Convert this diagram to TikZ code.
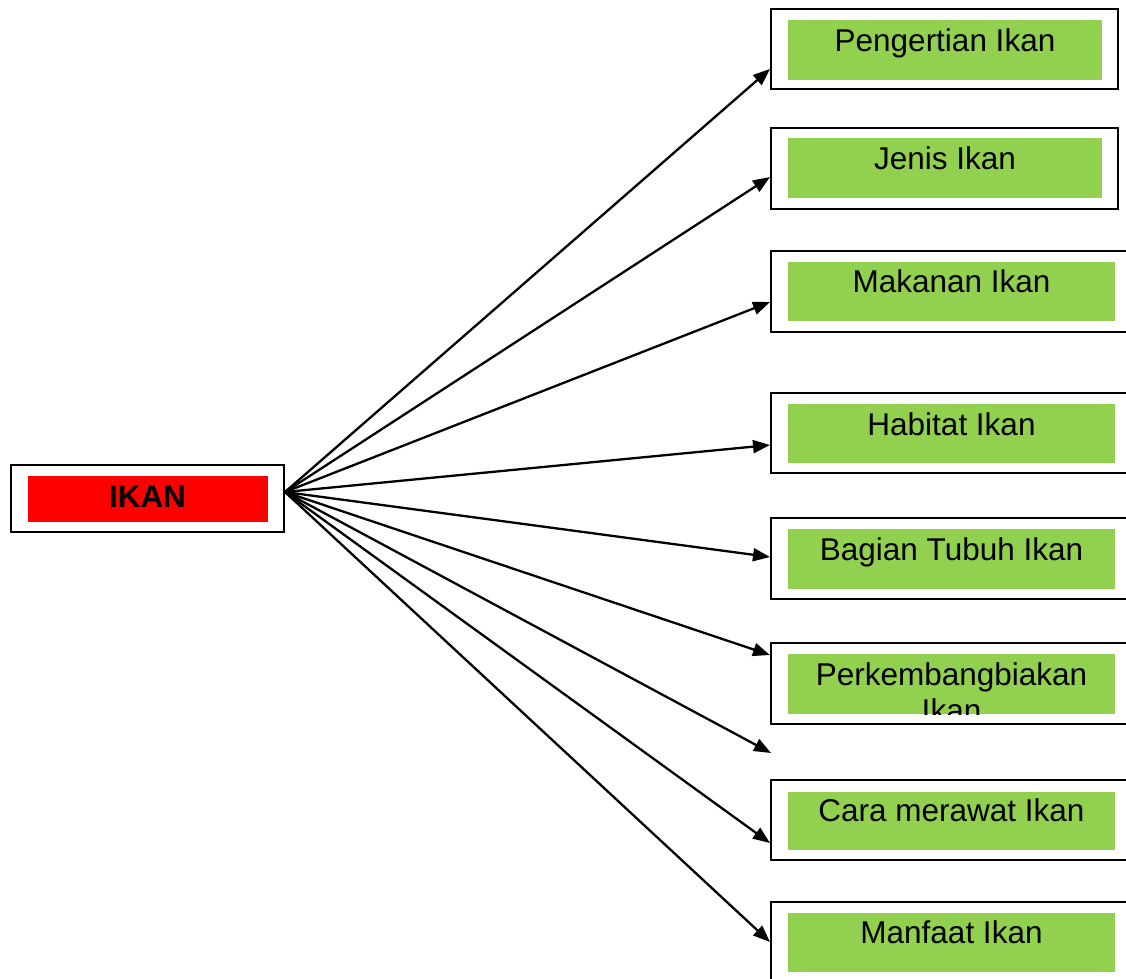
\documentclass[tikz,border=0pt]{standalone}
\usepackage{fontspec}
\setmainfont{Liberation Sans}
\usetikzlibrary{arrows.meta,calc}
\definecolor{boxgreen}{HTML}{92D050}
\definecolor{boxred}{HTML}{FF0000}
\begin{document}
\begin{tikzpicture}[x=1pt,y=-1pt,
  outerbox/.style={draw=black,line width=2pt,fill=white,rectangle,inner sep=0pt},
  greenbox/.style={fill=boxgreen,rectangle,inner sep=0pt},
  redbox/.style={fill=boxred,rectangle,inner sep=0pt},
  lbl/.style={anchor=base,inner sep=0pt,font=\fontsize{31.5}{36.5}\selectfont},
  conn/.style={line width=2.3pt,-{Triangle[length=17pt,width=13pt]},shorten >=0pt}]
\useasboundingbox (0,0) rectangle (1126,978);
\clip (0,0) rectangle (1126,978);
\fill[white] (0,0) rectangle (1126,978);

% central node
\node[outerbox,minimum width=273pt,minimum height=67pt] (ikan) at (147.5,498.5) {};
\node[redbox,minimum width=240pt,minimum height=46pt] (ikanfill) at (148,499) {};
\node[lbl,font=\fontsize{31.5}{36.5}\selectfont\bfseries] (ikantxt) at (147.5,507) {IKAN};

% right boxes
\node[outerbox,minimum width=347pt,minimum height=80pt] (b1) at (944.5,49) {};
\node[greenbox,minimum width=314pt,minimum height=60pt] (g1) at (945,50) {};
\node[lbl] (l1) at (945,51) {Pengertian Ikan};

\node[outerbox,minimum width=347pt,minimum height=81pt] (b2) at (944.5,168.5) {};
\node[greenbox,minimum width=314pt,minimum height=60pt] (g2) at (945,168) {};
\node[lbl] (l2) at (945,169) {Jenis Ikan};

\node[outerbox,minimum width=370pt,minimum height=81pt] (b3) at (956,291.5) {};
\node[greenbox,minimum width=327pt,minimum height=59pt] (g3) at (951.5,291.5) {};
\node[lbl] (l3) at (951.5,292) {Makanan Ikan};

\node[outerbox,minimum width=370pt,minimum height=80pt] (b4) at (956,433) {};
\node[greenbox,minimum width=327pt,minimum height=59pt] (g4) at (951.5,433.5) {};
\node[lbl] (l4) at (951.5,435) {Habitat Ikan};

\node[outerbox,minimum width=370pt,minimum height=81pt] (b5) at (956,558.5) {};
\node[greenbox,minimum width=327pt,minimum height=60pt] (g5) at (951.5,559) {};
\node[lbl] (l5) at (951.5,560) {Bagian Tubuh Ikan};

\node[outerbox,minimum width=370pt,minimum height=81pt] (b6) at (956,683.5) {};
\node[greenbox,minimum width=327pt,minimum height=60pt] (g6) at (951.5,684) {};
\begin{scope}
  \clip (g6.north west) rectangle (g6.south east);
  \node[lbl] (l6a) at (951.5,685) {Perkembangbiakan};
  \node[lbl] (l6b) at (951.5,721.5) {Ikan};
\end{scope}

\node[outerbox,minimum width=370pt,minimum height=80pt] (b8) at (956,820) {};
\node[greenbox,minimum width=327pt,minimum height=58pt] (g8) at (951.5,821) {};
\node[lbl] (l8) at (951.5,821) {Cara merawat Ikan};

\node[outerbox,minimum width=370pt,minimum height=88pt] (b9) at (956,946) {};
\node[greenbox,minimum width=327pt,minimum height=59pt] (g9) at (951.5,942.5) {};
\node[lbl] (l9) at (951.5,943) {Manfaat Ikan};

% connector ends
\coordinate (src) at (285,492);
\coordinate (t1) at (b1.west |- 0,69);
\coordinate (t2) at (b2.west |- 0,177);
\coordinate (t3) at (b3.west |- 0,302);
\coordinate (t4) at (b4.west |- 0,445);
\coordinate (t5) at (b5.west |- 0,557);
\coordinate (t6) at (b6.west |- 0,655);
\coordinate (t7) at (771,753);
\coordinate (t8) at (b8.west |- 0,843);
\coordinate (t9) at (b9.west |- 0,942);

\foreach \t in {t1,t2,t3,t4,t5,t6,t7,t8,t9}{
  \draw[conn] (src) -- (\t);
}
\end{tikzpicture}
\end{document}
